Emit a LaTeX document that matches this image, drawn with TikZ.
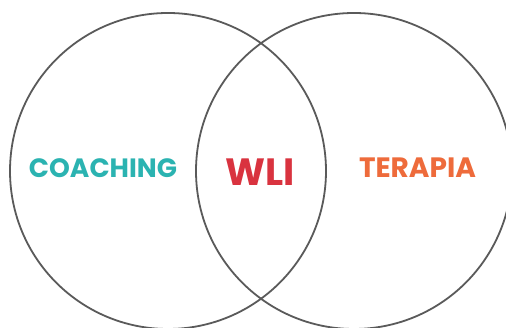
\documentclass[tikz,border=0pt]{standalone}
\usepackage{fontspec}
\setmainfont{Poppins}
\definecolor{teal1}{HTML}{2BB3B1}
\definecolor{red1}{HTML}{D9333F}
\definecolor{orange1}{HTML}{EE6B3B}
\definecolor{ring}{HTML}{5A5A5A}
\begin{document}
\begin{tikzpicture}[x=1pt,y=1pt,
  ringstyle/.style={draw=ring,line width=1.8pt},
  lbl/.style={anchor=base,inner sep=0pt,font=\fontsize{26.5}{26.5}\selectfont\bfseries}]
\useasboundingbox (0,0) rectangle (506,328);
\fill[white] (0,0) rectangle (506,328);
\draw[ringstyle] (168,157) circle (158);
\draw[ringstyle] (354,157) circle (158);
\node[lbl,text=teal1] (coach) at (103,150) {COACHING};
\node[lbl,text=red1,font=\fontsize{38}{38}\selectfont\bfseries] (wli) at (260.5,142) {WLI};
\node[lbl,text=orange1,font=\fontsize{28}{28}\selectfont\bfseries] (ter) at (417.5,150) {TERAPIA};
\end{tikzpicture}
\end{document}
